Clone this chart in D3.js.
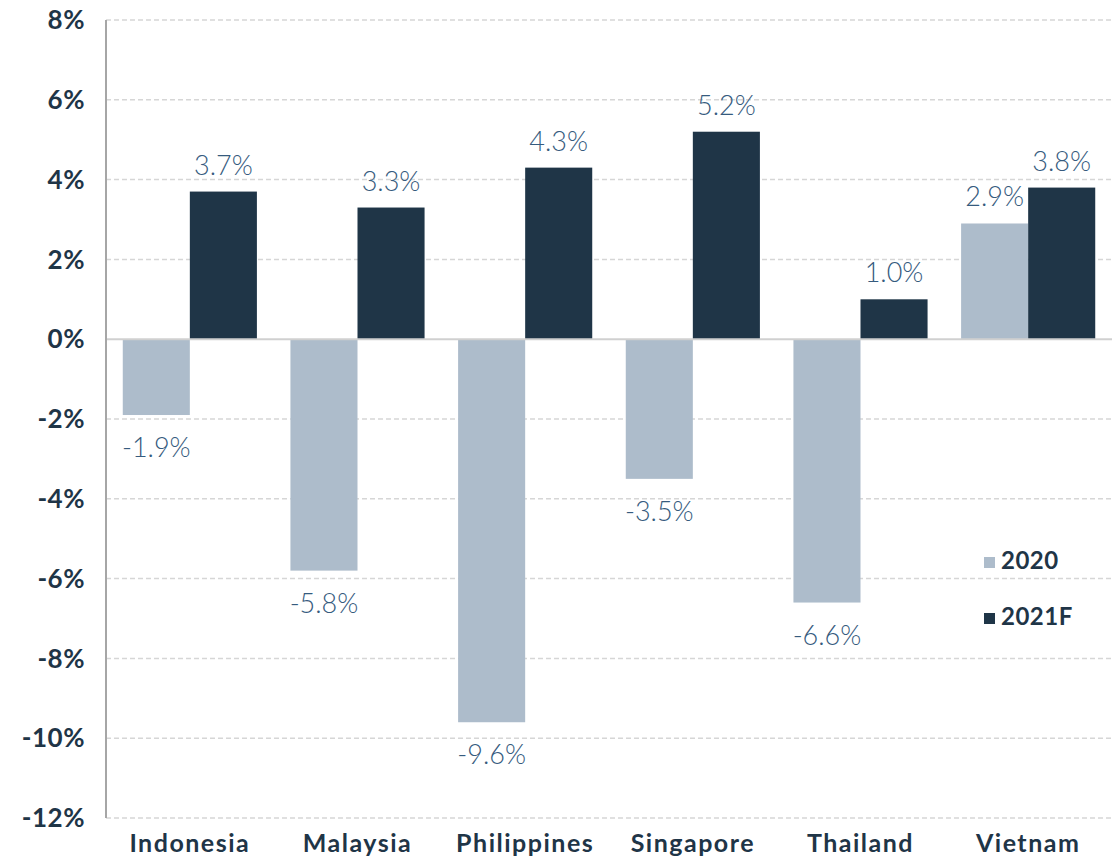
<!DOCTYPE html>
<html>
<head>
<meta charset="utf-8">
<script src="https://cdnjs.cloudflare.com/ajax/libs/d3/7.8.5/d3.min.js"></script>
<style>
    body { margin: 0; background: #fff; }
    svg { display: block; font-family: Lato, "Open Sans", sans-serif; }
</style>
</head>
<body>
<div id="chart-container"></div>
<script>
// chart values
var countries = ["Indonesia", "Malaysia", "Philippines", "Singapore", "Thailand", "Vietnam"];
var seriesNames = ["2020", "2021F"];
var values2020 = [-1.9, -5.8, -9.6, -3.5, -6.6, 2.9];
var values2021 = [3.7, 3.3, 4.3, 5.2, 1.0, 3.8];
var yTicks = [8, 6, 4, 2, 0, -2, -4, -6, -8, -10, -12];

var colors = { "2020": "#adbccb", "2021F": "#1f3547" };

var chartWidth = 1120, chartHeight = 862;
var plotLeft = 106, plotRight = 1112, plotTop = 20, plotBottom = 818;

var svg = d3.select("#chart-container")
    .append("svg")
    .attr("width", chartWidth)
    .attr("height", chartHeight);

var x0 = d3.scaleBand()
    .domain(countries)
    .range([plotLeft, plotRight])
    .paddingInner(0.2)
    .paddingOuter(0.1);

var x1 = d3.scaleBand()
    .domain(seriesNames)
    .range([0, x0.bandwidth()]);

var y = d3.scaleLinear()
    .domain([-12, 8])
    .range([plotBottom, plotTop]);

// dashed gridlines
svg.append("g")
    .selectAll("line")
    .data(yTicks.filter(function (d) { return d !== 0; }))
    .enter()
    .append("line")
    .attr("x1", plotLeft)
    .attr("x2", plotRight)
    .attr("y1", function (d) { return y(d); })
    .attr("y2", function (d) { return y(d); })
    .attr("stroke", "#d6d6d6")
    .attr("stroke-width", 1.5)
    .attr("stroke-dasharray", "5,3");

// y axis tick labels
svg.append("g")
    .selectAll("text")
    .data(yTicks)
    .enter()
    .append("text")
    .attr("x", 85)
    .attr("y", function (d) { return y(d); })
    .attr("dy", "0.35em")
    .attr("text-anchor", "end")
    .style("font-size", "26px")
    .style("font-weight", "bold")
    .style("letter-spacing", "0.5px")
    .style("fill", "#1f3547")
    .text(function (d) { return d + "%"; });

// flatten data
var barData = [];
countries.forEach(function (c, i) {
    barData.push({ country: c, series: "2020", value: values2020[i] });
    barData.push({ country: c, series: "2021F", value: values2021[i] });
});

// bars
svg.append("g")
    .selectAll("rect")
    .data(barData)
    .enter()
    .append("rect")
    .attr("x", function (d) { return x0(d.country) + x1(d.series); })
    .attr("y", function (d) { return y(Math.max(0, d.value)); })
    .attr("width", x1.bandwidth())
    .attr("height", function (d) { return Math.abs(y(d.value) - y(0)); })
    .attr("fill", function (d) { return colors[d.series]; });

// zero line
svg.append("line")
    .attr("x1", plotLeft)
    .attr("x2", plotRight)
    .attr("y1", y(0))
    .attr("y2", y(0))
    .attr("stroke", "#d0d0d0")
    .attr("stroke-width", 2);

// vertical axis line
svg.append("line")
    .attr("x1", plotLeft)
    .attr("x2", plotLeft)
    .attr("y1", plotTop)
    .attr("y2", plotBottom)
    .attr("stroke", "#a6a6a6")
    .attr("stroke-width", 2);

// value labels
svg.append("g")
    .selectAll("text")
    .data(barData)
    .enter()
    .append("text")
    .attr("x", function (d) { return x0(d.country) + x1(d.series) + x1.bandwidth() / 2; })
    .attr("y", function (d) {
        return d.value >= 0 ? y(d.value) - 17 : y(d.value) + 42;
    })
    .attr("text-anchor", "middle")
    .style("font-size", "27px")
    .style("font-weight", 300)
    .style("fill", "#365b7e")
    .text(function (d) { return d.value.toFixed(1) + "%"; });

// category labels
svg.append("g")
    .selectAll("text")
    .data(countries)
    .enter()
    .append("text")
    .attr("x", function (d) { return x0(d) + x0.bandwidth() / 2; })
    .attr("y", 852)
    .attr("text-anchor", "middle")
    .style("font-size", "25px")
    .style("font-weight", "bold")
    .style("letter-spacing", "1.5px")
    .style("fill", "#1f3547")
    .text(function (d) { return d; });

// legend
var legend = svg.append("g")
    .attr("transform", "translate(984,557)");

legend.selectAll("rect")
    .data(seriesNames)
    .enter()
    .append("rect")
    .attr("x", 0)
    .attr("y", function (d, i) { return i * 56; })
    .attr("width", 11)
    .attr("height", 11)
    .attr("fill", function (d) { return colors[d]; });

legend.selectAll("text")
    .data(seriesNames)
    .enter()
    .append("text")
    .attr("x", 17)
    .attr("y", function (d, i) { return i * 56 + 12; })
    .style("font-size", "24px")
    .style("font-weight", "bold")
    .style("letter-spacing", "0.5px")
    .style("fill", "#1f3547")
    .text(function (d) { return d; });
</script>
</body>
</html>
